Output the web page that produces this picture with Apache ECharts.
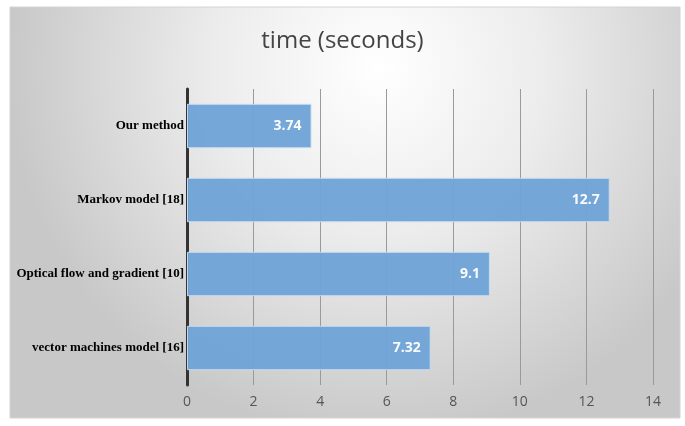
<!DOCTYPE html>
<html><head><meta charset="utf-8">
<script src="https://cdn.jsdelivr.net/npm/echarts@6/dist/echarts.min.js"></script>
<style>html,body{margin:0;padding:0;background:#fff}#c{width:685px;height:426px}</style>
</head><body><div id="c"></div>
<script>
const categories = ["Our method", "Markov model [18]", "Optical flow and gradient [10]", "vector machines model [16]"];
const values = [3.74, 12.7, 9.1, 7.32];
const titleText = "time (seconds)";

const chart = echarts.init(document.getElementById('c'));
chart.setOption({
  backgroundColor: '#ffffff',
  animation: false,
  graphic: [{
    type: 'rect', z: -10, silent: true,
    shape: {x: 10, y: 7, width: 670, height: 411},
    style: {
      fill: new echarts.graphic.RadialGradient(0.55, 0.15, 0.9, [
        {offset: 0, color: '#ffffff'},
        {offset: 0.45, color: '#ececec'},
        {offset: 1, color: '#c8c8c8'}
      ]),
      stroke: '#d4d4d4', lineWidth: 1
    }
  }],
  title: {
    text: titleText, left: 'center', top: 24,
    textStyle: {fontFamily: 'Open Sans', fontWeight: 'normal', fontSize: 24, color: '#444'}
  },
  grid: {left: 187, right: 32, top: 89, bottom: 41, containLabel: false},
  xAxis: {
    type: 'value', min: 0, max: 14, interval: 2,
    axisLine: {show: false}, axisTick: {show: false},
    splitLine: {show: true, lineStyle: {color: '#9a9a9a', width: 1}},
    axisLabel: {color: '#555', fontFamily: 'Open Sans', fontSize: 14, margin: 10}
  },
  yAxis: {
    type: 'category', data: categories, inverse: true,
    axisLine: {show: true, lineStyle: {color: '#333', width: 3}},
    axisTick: {show: false},
    axisLabel: {color: '#000', fontFamily: 'Liberation Serif', fontWeight: 'bold', fontSize: 13, margin: 3}
  },
  series: [{
    type: 'bar', data: values, barCategoryGap: '40%',
    itemStyle: {color: '#6fa4d7', borderColor: '#c9ddf0', borderWidth: 1, opacity: 0.96},
    label: {show: true, position: 'insideRight', distance: 10, color: '#fff', fontFamily: 'Open Sans', fontWeight: 'bold', fontSize: 14}
  }]
});
</script></body></html>
